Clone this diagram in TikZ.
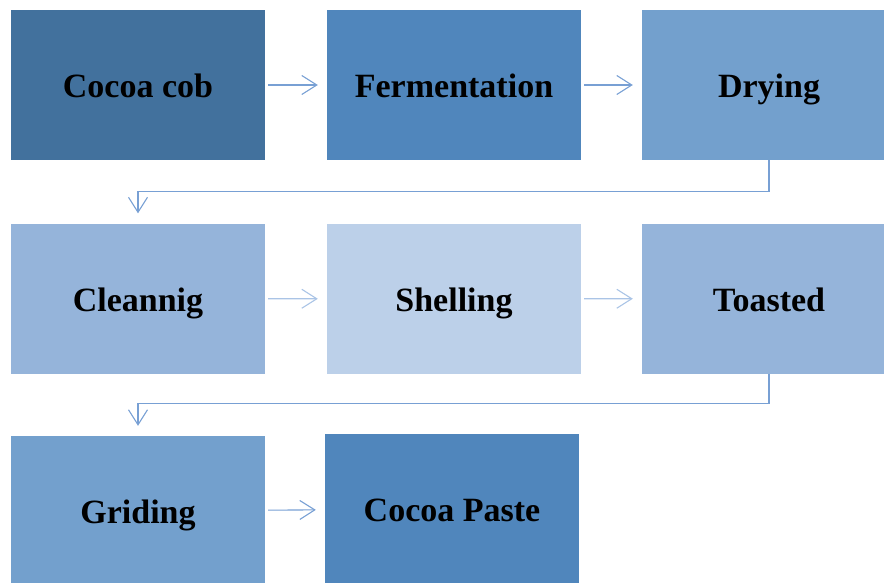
\documentclass[tikz,border=0pt]{standalone}
\usepackage{fontspec}
\setmainfont{Liberation Serif}
\usetikzlibrary{arrows.meta}
\definecolor{cobblue}{RGB}{66,113,157}
\definecolor{midblue}{RGB}{80,134,188}
\definecolor{softblue}{RGB}{115,160,205}
\definecolor{paleblue}{RGB}{149,180,218}
\definecolor{mistblue}{RGB}{188,208,233}
\definecolor{linkblue}{RGB}{120,160,212}
\definecolor{linklight}{RGB}{170,196,230}
\tikzset{
  stage/.style={rectangle, minimum width=254pt, minimum height=150pt, inner sep=0pt,
    text height=25pt, text depth=0pt,
    font=\fontsize{34}{40}\selectfont\bfseries, text=black},
  link/.style={draw=linkblue, line width=1.1pt, -{Straight Barb[length=15pt,width=19pt,line width=1.1pt]},
    shorten <=3pt, shorten >=9pt},
  linklt/.style={link, draw=linklight},
  elbow/.style={draw=linkblue, line width=1.1pt, -{Straight Barb[length=15pt,width=19pt,line width=1.1pt]},
    shorten >=10pt}
}
\begin{document}
\begin{tikzpicture}[x=1pt,y=-1pt]
\useasboundingbox (0,0) rectangle (884,583);
% first row
\node[stage, fill=cobblue]  (cob)   at (138,85)  {Cocoa cob};
\node[stage, fill=midblue]  (ferm)  at (454,85)  {Fermentation};
\node[stage, fill=softblue] (dry)   at (769,85)  {Drying};
% second row
\node[stage, fill=paleblue] (clean) at (138,298.5) {Cleannig};
\node[stage, fill=mistblue] (shell) at (454,299) {Shelling};
\node[stage, fill=paleblue] (toast) at (769,298.5) {Toasted};
% third row
\node[stage, fill=softblue] (grind) at (138,511) {Griding};
\node[stage, fill=midblue]  (paste) at (452,509) {Cocoa Paste};
% connectors
\draw[link] (cob) -- (ferm);
\draw[link] (ferm) -- (dry);
\draw[elbow] (dry.south) -- ++(0,31) -| (clean.north);
\draw[linklt] (clean) -- (shell);
\draw[linklt] (shell) -- (toast);
\draw[elbow] (toast.south) -- ++(0,30) -| (grind.north);
\draw[link] (grind) -- (paste);
\end{tikzpicture}
\end{document}
